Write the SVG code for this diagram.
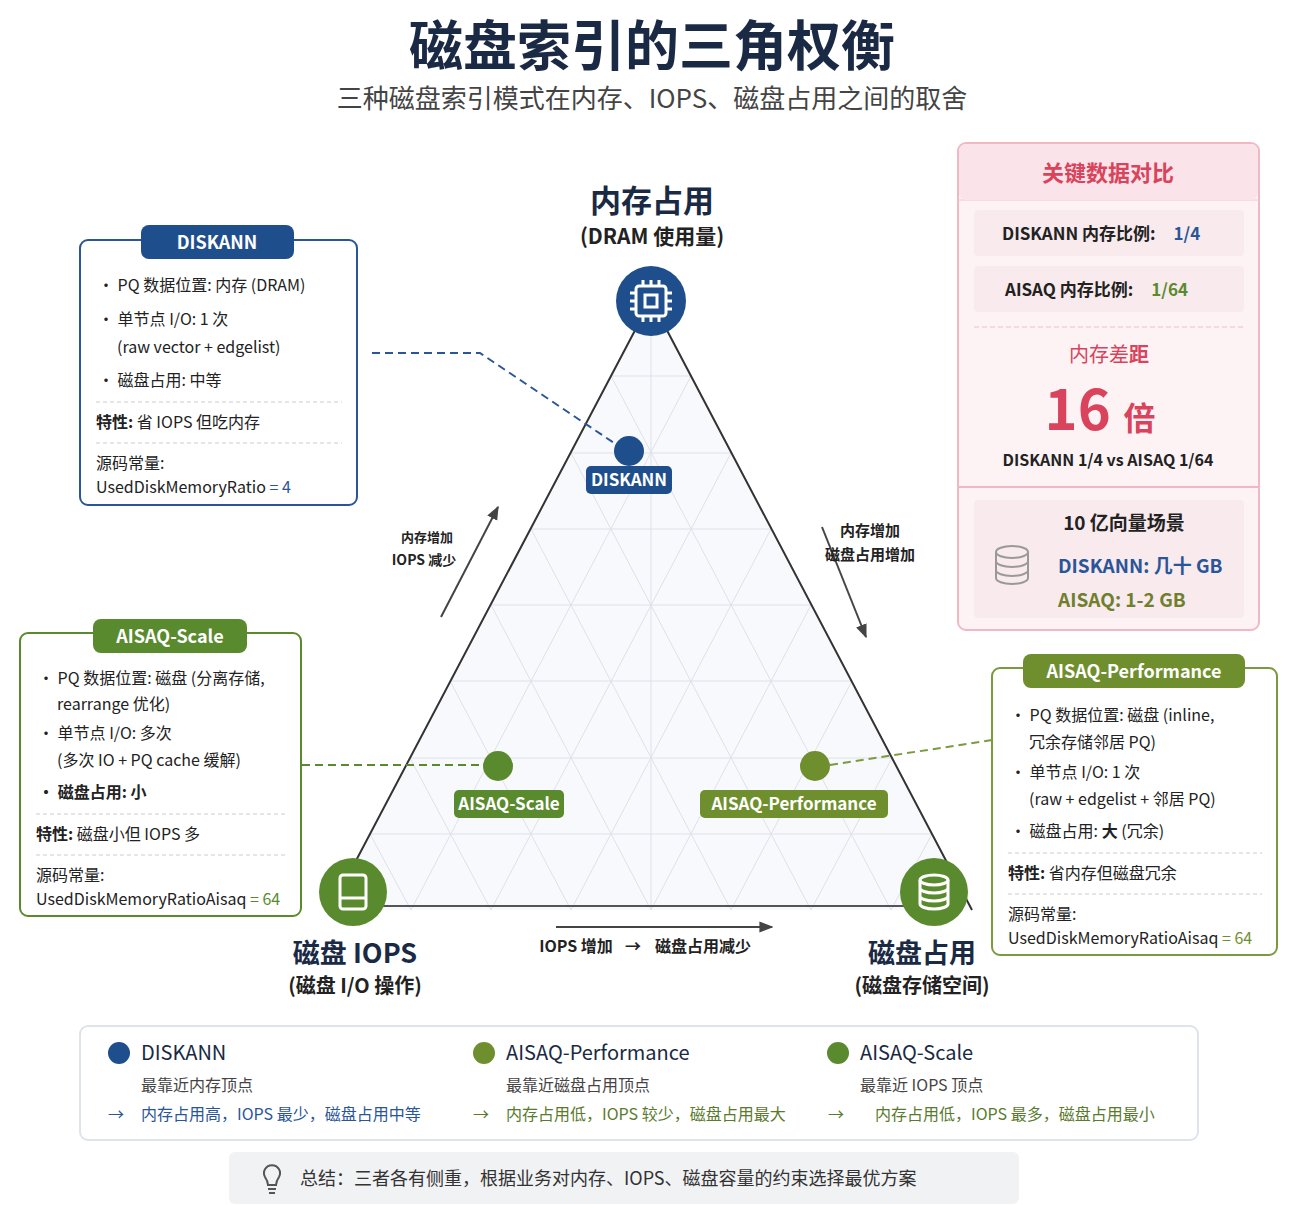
<svg xmlns="http://www.w3.org/2000/svg" width="1305" height="1206" viewBox="0 0 1305 1206">
<defs>
<style>
text{font-family:"Noto Sans CJK SC","Noto Sans",sans-serif}
text:not([fill]){fill:#222}
.b{font-weight:700}
.card{fill:#fff;stroke-width:2}
.blue{fill:#1f4e8c}
.green{fill:#5a8a2e}
.grid{stroke:#dde1e8;stroke-width:1;fill:none}
.sep{stroke:#ccc;stroke-dasharray:4 3}
.s15{font-size:16px}
.s16{font-size:17px}
</style>
<marker id="ar" viewBox="0 0 10 10" refX="9" refY="5" markerWidth="7" markerHeight="7" orient="auto"><path d="M0,1L10,5L0,9z" fill="#444"/></marker>
</defs>
<rect width="1305" height="1206" fill="#fff"/>
<text x="652" y="66" text-anchor="middle" class="b" font-size="54" fill="#1a2a44">磁盘索引的三角权衡</text>
<text x="652" y="108" text-anchor="middle" font-size="26" fill="#444">三种磁盘索引模式在内存、IOPS、磁盘占用之间的取舍</text>

<g id="triangle">
<polygon points="651,300 330,910 972,910" fill="#f8f9fc"/>
<g class="grid">
<line x1="611" y1="376" x2="691" y2="376"/><line x1="571" y1="453" x2="731" y2="453"/>
<line x1="531" y1="529" x2="771" y2="529"/><line x1="491" y1="605" x2="811" y2="605"/>
<line x1="450" y1="681" x2="852" y2="681"/><line x1="410" y1="758" x2="892" y2="758"/>
<line x1="370" y1="834" x2="932" y2="834"/>
<line x1="651" y1="300" x2="651" y2="910"/>
<path d="M411,910L691,376M491,910L731,453M571,910L771,529M651,910L811,605M731,910L852,681M811,910L892,758M891,910L932,834"/>
<path d="M891,910L611,376M811,910L571,453M731,910L531,529M651,910L491,605M571,910L450,681M491,910L410,758M411,910L370,834"/>
</g>
<polyline points="330,910 651,300 972,910" fill="none" stroke="#333" stroke-width="2"/>
<line x1="360" y1="906" x2="940" y2="906" stroke="#555" stroke-width="2"/>
</g>

<g id="connectors" fill="none">
<path d="M372,353H480L617,445" stroke="#2a5598" stroke-width="2" stroke-dasharray="8 5"/>
<path d="M302,765H485" stroke="#5a8a2e" stroke-width="2" stroke-dasharray="8 5"/>
<path d="M830,765L992,740" stroke="#7a9a3e" stroke-width="2" stroke-dasharray="8 5"/>
<line x1="441" y1="617" x2="498" y2="507" stroke="#444" stroke-width="2" marker-end="url(#ar)"/>
<line x1="822" y1="527" x2="866" y2="637" stroke="#444" stroke-width="2" marker-end="url(#ar)"/>
<line x1="556" y1="927" x2="772" y2="927" stroke="#444" stroke-width="2" marker-end="url(#ar)"/>
</g>
<text x="427" y="542" text-anchor="middle" class="b" font-size="13">内存增加</text>
<text x="424" y="565" text-anchor="middle" class="b" font-size="14">IOPS 减少</text>
<text x="870" y="536" text-anchor="middle" class="b" font-size="15">内存增加</text>
<text x="870" y="560" text-anchor="middle" class="b" font-size="15">磁盘占用增加</text>
<text x="576" y="952" text-anchor="middle" class="b" font-size="16">IOPS 增加</text>
<text x="633" y="952" text-anchor="middle" class="b" font-size="16">→</text>
<text x="703" y="952" text-anchor="middle" class="b" font-size="16">磁盘占用减少</text>

<g id="v-mem">
<text x="652" y="212" text-anchor="middle" class="b" font-size="31" fill="#1a2a44">内存占用</text>
<text x="652" y="244" text-anchor="middle" class="b" font-size="21">(DRAM 使用量)</text>
<circle cx="651" cy="301" r="35" class="blue"/>
<g stroke="#fff" stroke-width="3" fill="none"><rect x="636" y="286" width="30" height="30" rx="3"/><rect x="645" y="295" width="12" height="12"/><path d="M643,280v6M651,280v6M659,280v6M643,316v6M651,316v6M659,316v6M630,293h6M630,301h6M630,309h6M666,293h6M666,301h6M666,309h6"/></g>
</g>
<g id="v-iops">
<circle cx="353" cy="892" r="34" class="green"/>
<g stroke="#fff" stroke-width="3" fill="none"><rect x="340" y="875" width="26" height="34" rx="3"/><path d="M340,898h26"/></g>
<text x="355" y="963" text-anchor="middle" class="b" font-size="27" fill="#1a2a44">磁盘 IOPS</text>
<text x="355" y="993" text-anchor="middle" class="b" font-size="20">(磁盘 I/O 操作)</text>
</g>
<g id="v-disk">
<circle cx="934" cy="892" r="34" class="green"/>
<g stroke="#fff" stroke-width="3" fill="none"><ellipse cx="934" cy="880" rx="14" ry="5"/><path d="M920,880v24a14,5 0 0 0 28,0v-24M920,888a14,5 0 0 0 28,0M920,896a14,5 0 0 0 28,0"/></g>
<text x="922" y="963" text-anchor="middle" class="b" font-size="27" fill="#1a2a44">磁盘占用</text>
<text x="922" y="993" text-anchor="middle" class="b" font-size="20">(磁盘存储空间)</text>
</g>

<g id="p-diskann">
<circle cx="629" cy="451" r="15" class="blue"/>
<rect x="586" y="466" width="86" height="28" rx="5" class="blue"/>
<text x="629" y="486" text-anchor="middle" class="b s16" fill="#fff">DISKANN</text>
</g>
<g id="p-scale">
<circle cx="498" cy="766" r="15" class="green"/>
<rect x="454" y="790" width="110" height="28" rx="5" class="green"/>
<text x="509" y="810" text-anchor="middle" class="b s16" fill="#fff">AISAQ-Scale</text>
</g>
<g id="p-perf">
<circle cx="815" cy="766" r="15" fill="#6f8f2e"/>
<rect x="700" y="790" width="188" height="28" rx="5" fill="#6f8f2e"/>
<text x="794" y="810" text-anchor="middle" class="b s16" fill="#fff">AISAQ-Performance</text>
</g>

<g id="card-diskann">
<rect x="80" y="240" width="277" height="265" rx="8" class="card" stroke="#2a5598"/>
<rect x="141" y="225" width="153" height="34" rx="8" class="blue"/>
<text x="217" y="249" text-anchor="middle" class="b" font-size="18" fill="#fff">DISKANN</text>
<g class="s15"><text x="98" y="291">•  PQ 数据位置: 内存 (DRAM)</text>
<text x="98" y="325">•  单节点 I/O: 1 次</text>
<text x="117" y="353">(raw vector + edgelist)</text>
<text x="98" y="386">•  磁盘占用: 中等</text>
<line x1="96" y1="402" x2="342" y2="402" class="sep"/>
<text x="96" y="428"><tspan class="b">特性:</tspan> 省 IOPS 但吃内存</text>
<line x1="96" y1="443" x2="342" y2="443" class="sep"/>
<text x="96" y="469">源码常量:</text>
<text x="96" y="493">UsedDiskMemoryRatio <tspan fill="#2a5598">= 4</tspan></text></g>
</g>

<g id="card-scale">
<rect x="20" y="633" width="281" height="283" rx="8" class="card" stroke="#5a8a2e"/>
<rect x="93" y="619" width="154" height="34" rx="8" class="green"/>
<text x="170" y="643" text-anchor="middle" class="b" font-size="18" fill="#fff">AISAQ-Scale</text>
<g class="s15"><text x="38" y="684">•  PQ 数据位置: 磁盘 (分离存储,</text>
<text x="57" y="710">rearrange 优化)</text>
<text x="38" y="739">•  单节点 I/O: 多次</text>
<text x="57" y="766">(多次 IO + PQ cache 缓解)</text>
<text x="38" y="798" class="b">•  磁盘占用: 小</text>
<line x1="36" y1="814" x2="286" y2="814" class="sep"/>
<text x="36" y="840"><tspan class="b">特性:</tspan> 磁盘小但 IOPS 多</text>
<line x1="36" y1="855" x2="286" y2="855" class="sep"/>
<text x="36" y="881">源码常量:</text>
<text x="36" y="905">UsedDiskMemoryRatioAisaq <tspan fill="#5a8a2e">= 64</tspan></text></g>
</g>

<g id="card-perf">
<rect x="992" y="668" width="285" height="287" rx="8" class="card" stroke="#7a9a3e"/>
<rect x="1023" y="654" width="222" height="34" rx="8" fill="#6f8f2e"/>
<text x="1134" y="678" text-anchor="middle" class="b" font-size="18" fill="#fff">AISAQ-Performance</text>
<g class="s15"><text x="1010" y="721">•  PQ 数据位置: 磁盘 (inline,</text>
<text x="1029" y="748">冗余存储邻居 PQ)</text>
<text x="1010" y="778">•  单节点 I/O: 1 次</text>
<text x="1029" y="805">(raw + edgelist + 邻居 PQ)</text>
<text x="1010" y="837">•  磁盘占用: <tspan class="b">大</tspan> (冗余)</text>
<line x1="1008" y1="853" x2="1262" y2="853" class="sep"/>
<text x="1008" y="879"><tspan class="b">特性:</tspan> 省内存但磁盘冗余</text>
<line x1="1008" y1="894" x2="1262" y2="894" class="sep"/>
<text x="1008" y="920">源码常量:</text>
<text x="1008" y="944">UsedDiskMemoryRatioAisaq <tspan fill="#6f8f2e">= 64</tspan></text></g>
</g>

<g id="card-compare">
<rect x="958" y="143" width="301" height="487" rx="8" fill="#fdf3f5" stroke="#f0b8c4" stroke-width="2"/>
<path d="M958,200H1259" stroke="#f0c6cf"/>
<rect x="959" y="144" width="299" height="56" rx="7" fill="#fbe4e9"/>
<text x="1108" y="181" text-anchor="middle" class="b" font-size="22" fill="#d9435c">关键数据对比</text>
<rect x="974" y="210" width="270" height="46" rx="4" fill="#f9eaed"/>
<text x="1002" y="240" class="b" font-size="17">DISKANN 内存比例:<tspan dx="18" fill="#2a5598">1/4</tspan></text>
<rect x="974" y="266" width="270" height="46" rx="4" fill="#f9eaed"/>
<text x="1005" y="296" class="b" font-size="17">AISAQ 内存比例:<tspan dx="18" fill="#5a8a2e">1/64</tspan></text>
<line x1="974" y1="327" x2="1244" y2="327" stroke="#e8c0c8" stroke-dasharray="5 3"/>
<text x="1109" y="362" text-anchor="middle" font-size="20" fill="#d9435c">内存差<tspan class="b">距</tspan></text>
<text x="1100" y="430" text-anchor="middle" class="b" font-size="56" fill="#d9435c">16 <tspan font-size="32">倍</tspan></text>
<text x="1108" y="466" text-anchor="middle" class="b" font-size="16">DISKANN 1/4 vs AISAQ 1/64</text>
<path d="M958,487H1259" stroke="#f0b8c4" stroke-width="2"/>
<rect x="974" y="500" width="270" height="118" rx="4" fill="#f9eaed"/>
<g stroke="#999" stroke-width="2" fill="none"><ellipse cx="1012" cy="552" rx="16" ry="6"/><path d="M996,552v26a16,6 0 0 0 32,0v-26M996,561a16,6 0 0 0 32,0M996,570a16,6 0 0 0 32,0"/></g>
<text x="1124" y="530" text-anchor="middle" class="b" font-size="19">10 亿向量场景</text>
<text x="1058" y="573" class="b" font-size="19" fill="#2a5598">DISKANN: 几十 GB</text>
<text x="1058" y="607" class="b" font-size="19" fill="#6f7f2e">AISAQ: 1-2 GB</text>
</g>

<g id="legend">
<rect x="80" y="1026" width="1118" height="114" rx="8" fill="#fff" stroke="#dfe3ea" stroke-width="2"/>
<circle cx="119" cy="1053" r="11" class="blue"/>
<text x="141" y="1060" font-size="20" fill="#1a2a44">DISKANN</text>
<text x="141" y="1091" font-size="16" fill="#444">最靠近内存顶点</text>
<text x="108" y="1120" font-size="16" fill="#2a5598">→</text>
<text x="141" y="1120" font-size="16" fill="#2a5598">内存占用高，IOPS 最少，磁盘占用中等</text>
<circle cx="484" cy="1053" r="11" fill="#6f8f2e"/>
<text x="506" y="1060" font-size="20" fill="#1a2a44">AISAQ-Performance</text>
<text x="506" y="1091" font-size="16" fill="#444">最靠近磁盘占用顶点</text>
<text x="473" y="1120" font-size="16" fill="#5a7a2e">→</text>
<text x="506" y="1120" font-size="16" fill="#5a7a2e">内存占用低，IOPS 较少，磁盘占用最大</text>
<circle cx="838" cy="1053" r="11" class="green"/>
<text x="860" y="1060" font-size="20" fill="#1a2a44">AISAQ-Scale</text>
<text x="860" y="1091" font-size="16" fill="#444">最靠近 IOPS 顶点</text>
<text x="828" y="1120" font-size="16" fill="#5a7a2e">→</text>
<text x="875" y="1120" font-size="16" fill="#5a7a2e">内存占用低，IOPS 最多，磁盘占用最小</text>
</g>
<g id="summary">
<rect x="229" y="1152" width="790" height="52" rx="6" fill="#f1f2f4"/>
<g stroke="#555" stroke-width="2" fill="none"><path d="M265,1177a8,8 0 1 1 14,0c-2,3 -3,5 -3,8h-8c0,-3 -1,-5 -3,-8z"/><path d="M268,1189h8M269,1193h6"/></g>
<text x="300" y="1185" font-size="18" fill="#333">总结：三者各有侧重，根据业务对内存、IOPS、磁盘容量的约束选择最优方案</text>
</g>
</svg>
